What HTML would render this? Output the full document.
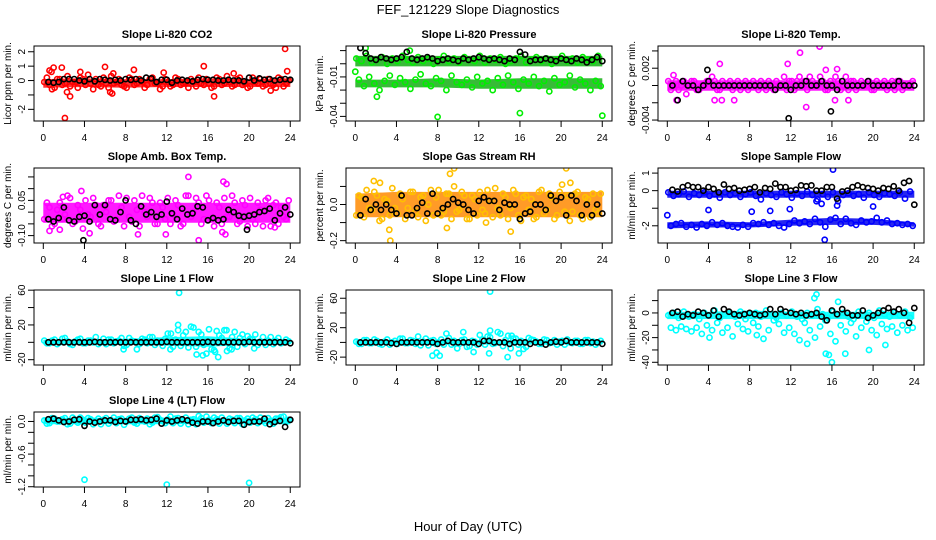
<!DOCTYPE html>
<html><head><meta charset="utf-8">
<style>
html,body{margin:0;padding:0;background:#fff;}
svg{display:block;font-family:"Liberation Sans",Arial,sans-serif;}
</style></head>
<body>
<svg id="chart" width="936" height="540" viewBox="0 0 936 540">
<rect x="0" y="0" width="936" height="540" fill="#fff"/>
<text x="468" y="14" text-anchor="middle" font-size="13">FEF_121229  Slope Diagnostics</text>
<text x="468" y="531" text-anchor="middle" font-size="13">Hour of Day (UTC)</text>
</svg>
<script>
// ---- shared sample times (hours) ----
const tA = [0.1,0.6,1.1,1.6,2.1,2.6,3.1,3.6,4.1,4.6,5.1,5.6,6.1,6.6,7.1,7.6,8.1,8.6,9.1,9.6,10.1,10.6,11.1,11.6,12.1,12.6,13.1,13.6,14.1,14.6,15.1,15.6,16.1,16.6,17.1,17.6,18.1,18.6,19.1,19.6,20.1,20.6,21.1,21.6,22.1,22.6,23.1,23.6];
const tB = [0.35,0.85,1.35,1.85,2.35,2.85,3.35,3.85,4.35,4.85,5.35,5.85,6.35,6.85,7.35,7.85,8.35,8.85,9.35,9.85,10.35,10.85,11.35,11.85,12.35,12.85,13.35,13.85,14.35,14.85,15.35,15.85,16.35,16.85,17.35,17.85,18.35,18.85,19.35,19.85,20.35,20.85,21.35,21.85,22.35,22.85,23.35,23.85];
const tK = [0.5,1,1.5,2,2.5,3,3.5,4,4.5,5,5.5,6,6.5,7,7.5,8,8.5,9,9.5,10,10.5,11,11.5,12,12.5,13,13.5,14,14.5,15,15.5,16,16.5,17,17.5,18,18.5,19,19.5,20,20.5,21,21.5,22,22.5,23,23.5,24];
const bandT = [0,4,8,12,16,20,24];
const xTicks = [0,4,8,12,16,20,24];

// ---- P1 CO2 ----
const co2A = [-0.1,-0.3,-0.5,0.1,-0.2,-0.4,-0.1,0.2,-0.3,-0.2,0.1,-0.4,-0.2,0.3,-0.1,-0.3,-0.5,0.1,-0.2,-0.1,-0.3,0.2,-0.2,-0.4,-0.1,-0.3,0.1,-0.2,-0.5,-0.1,0.2,-0.3,-0.2,-0.4,0.1,-0.2,-0.1,-0.3,0.2,-0.2,-0.4,-0.1,0.1,-0.3,-0.2,-0.5,0.1,-0.2];
const co2B = [0.2,-0.6,0.1,-0.3,0.3,-0.1,-0.5,0.1,0.4,-0.6,-0.3,0.2,-0.5,-0.2,0.1,-0.4,0.2,-0.3,0.1,-0.5,0.1,-0.2,-0.6,0.1,-0.4,0.2,-0.3,-0.1,0.1,-0.4,-0.2,0.1,-0.5,0.2,-0.3,0.3,-0.4,0.1,-0.3,-0.5,0.2,-0.2,-0.4,0.1,-0.3,0.2,-0.4,0];
const co2K = [-0.1,-0.15,-0.1,0.1,0.1,0.1,0,-0.05,0.1,-0.05,0.1,0.05,0,0.05,0,0.1,0.05,0.1,0,0.2,0.15,-0.1,0.05,0.05,-0.15,0,0.05,0,-0.05,0.05,0.1,0.05,0.05,0,0,0.05,0,0,-0.05,0.2,0,0.15,0.05,0.1,0,0.05,0.1,0.05];
const co2BandLo = [-0.5,-0.45,-0.5,-0.45,-0.45,-0.45,-0.45];
const co2BandHi = [0.1,0.15,0.1,0.1,0.15,0.1,0.15];
const co2OutX = [0.6,0.8,1,1.8,2.1,2.3,2.6,3.6,6,6.8,6.7,8.8,11.7,15.6,16.6,18.5,22.1,23.5,23.7,6.5];
const co2OutY = [0.7,0.6,0.9,0.9,-2.6,-0.8,-1.1,0.6,0.95,0.5,-0.9,0.75,0.55,1,-1.1,0.5,-0.7,2.2,0.65,-0.8];

// ---- P2 Pressure ----
const prA = [0.004,0.002,0.006,0.001,0.003,0.005,0.0,0.004,0.002,0.006,0.003,0.001,0.005,0.002,0.004,0.0,0.003,0.006,0.002,0.004,0.001,0.005,0.003,0.002,0.006,0.001,0.004,0.003,0.005,0.0,0.002,0.004,0.006,0.001,0.003,0.005,0.002,0.004,0.0,0.003,0.006,0.002,0.004,0.001,0.005,0.003,0.002,0.006];
const prB = [-0.012,-0.017,-0.01,-0.015,-0.02,-0.013,-0.009,-0.016,-0.011,-0.014,-0.019,-0.012,-0.008,-0.015,-0.017,-0.011,-0.013,-0.02,-0.009,-0.014,-0.016,-0.012,-0.018,-0.01,-0.015,-0.013,-0.02,-0.011,-0.016,-0.009,-0.014,-0.019,-0.012,-0.015,-0.01,-0.017,-0.013,-0.021,-0.011,-0.016,-0.014,-0.009,-0.018,-0.012,-0.015,-0.02,-0.013,-0.017];
const prK = [0.012,0.008,0.004,0.003,0.005,0.004,0.003,0.004,0.005,0.009,0.004,0.003,0.004,0.005,0.004,0.002,0.003,0.004,0.003,0.002,0.004,0.003,0.004,0.005,0.004,0.003,0.004,0.003,0.002,0.004,0.003,0.009,0.007,0.002,0.003,0.003,0.004,0.003,0.002,0.004,0.003,0.002,0.004,0.003,0.001,0.003,0.005,0.002];
const prBandLo = [-0.002,-0.002,-0.002,-0.002,-0.002,-0.002,-0.002];
const prBandHi = [0.006,0.006,0.006,0.006,0.006,0.006,0.006];
const prBand2Lo = [-0.018,-0.018,-0.018,-0.019,-0.019,-0.019,-0.019];
const prBand2Hi = [-0.012,-0.012,-0.011,-0.012,-0.011,-0.011,-0.011];
const prOutX = [8,16,24,0,2.1,5.3,1];
const prOutY = [-0.0404,-0.0375,-0.0395,-0.006,-0.025,0.01,0.012];

// ---- P3 Li-820 Temp ----
const tpA = [0.0005,0,-0.0005,0.0005,0,0.0005,-0.0005,0,0.0005,0.0005,-0.0005,0,0.0005,0,-0.0005,0.0005,0,0,0.0005,-0.0005,0,0.0005,0,-0.0005,0.0005,0.0005,0,-0.0005,0.0005,0,0.0005,-0.0005,0,0.0005,0,-0.0005,0.0005,0,0,0.0005,-0.0005,0,0.0005,0,-0.0005,0.0005,0,0];
const tpB = [-0.0005,0.0005,0,-0.001,0.0005,-0.0005,0,0.0005,0.001,-0.0005,0.0005,0,-0.0005,0.0005,0,-0.0005,0.0005,-0.0005,0,0.0005,-0.0005,0,0.001,0.0005,-0.0005,0.001,0.0005,0.001,0,0.001,-0.0005,0.0005,0.001,-0.0005,0.001,0.0005,-0.0005,0.0005,0,-0.0005,0.0005,0,-0.0005,0.0005,0.0005,-0.0005,0,0.0005];
const tpK = [0,-0.0017,0.0005,0,0,-0.0005,0,0.0005,0,0,0,0,0,0,0,0,0,0,0,0,-0.0005,0,0,-0.0005,0,0,0.0005,0,0,0.0005,0,0,-0.0005,0.0005,0,0,0,0,0.0005,0,0,0,0,0,0.0005,0,0,0];
const tpBandLo = [-0.0006,-0.0006,-0.0006,-0.0006,-0.0006,-0.0006,-0.0006];
const tpBandHi = [0.0006,0.0006,0.0006,0.0006,0.0006,0.0006,0.0006];
const tpOutX = [0.9,4.6,5.1,5.3,6.5,11.7,12.9,13.5,14.8,15.4,16.3,16.5,17.6,0.6];
const tpOutY = [-0.0017,-0.0017,0.0025,-0.0017,-0.0017,0.0025,0.0038,-0.0025,0.0045,0.0018,-0.0017,0.0019,-0.0017,0.0012];
const tpKOutX = [11.8,15.9,3.9];
const tpKOutY = [-0.0038,-0.003,0.0018];

// ---- P4 Amb Box Temp ----
const amA = [-0.03,0.02,-0.05,0.04,-0.01,0.06,-0.04,0.01,0.05,-0.02,0.03,-0.06,0.0,0.05,-0.03,0.02,0.06,-0.04,0.01,0.07,-0.02,0.04,-0.05,0.02,0.06,-0.01,0.03,-0.05,0.07,0.0,0.04,-0.03,0.05,-0.06,0.02,0.06,-0.02,0.04,-0.04,0.03,0.06,-0.05,0.01,0.05,-0.06,0.04,0.02,-0.03];
const amB = [0.04,-0.06,0.01,-0.03,0.07,-0.05,0.03,-0.07,-0.01,0.06,-0.05,0.03,0.05,-0.04,0.07,-0.06,-0.02,0.05,-0.06,0.0,0.06,-0.05,0.04,-0.03,-0.05,0.05,-0.06,0.07,-0.02,0.06,-0.05,0.07,-0.03,0.04,-0.05,-0.02,0.07,-0.05,0.05,-0.06,-0.03,0.04,-0.06,0.06,0.03,-0.05,-0.02,0.05];
const amK = [-0.03,-0.04,-0.025,0.02,-0.035,-0.04,-0.02,-0.015,-0.04,0.03,-0.01,0.03,-0.03,-0.035,0.0,0.05,-0.035,-0.05,0.025,-0.01,0.0,-0.02,-0.01,0.045,-0.005,-0.03,0.015,-0.01,-0.005,0.025,0.02,-0.035,-0.025,-0.035,-0.03,0.01,0.0,-0.015,-0.02,-0.015,-0.01,0.0,0.005,0.015,-0.035,-0.005,0.02,-0.01];
const amBandLo = [-0.045,-0.045,-0.045,-0.045,-0.045,-0.045,-0.045];
const amBandHi = [0.04,0.04,0.04,0.04,0.04,0.04,0.04];
const amOutX = [3.7,14.1,17.5,17.8,15.1,11.9,9.2,0.6,4.5,1.6,17.4,17.7,22.5,1.9];
const amOutY = [0.09,0.15,0.13,0.12,-0.12,-0.095,-0.095,-0.08,-0.09,-0.075,-0.085,-0.095,-0.065,0.065];
const amKOutX = [3.9,19.8];
const amKOutY = [-0.12,-0.075];

// ---- P5 Gas Stream RH ----
const rhA = [-0.06,0.04,0.08,-0.03,0.05,-0.08,0.02,0.09,-0.05,0.03,-0.02,0.07,-0.07,0.05,0.0,-0.06,0.08,-0.04,0.06,0.1,-0.03,0.05,-0.08,0.03,0.07,-0.05,0.02,0.09,-0.06,0.04,-0.02,0.06,-0.09,0.05,0.03,-0.07,0.08,-0.03,0.04,-0.06,0.11,0.05,-0.04,0.07,-0.08,0.03,0.06,-0.05];
const rhB = [0.05,-0.07,-0.02,0.07,-0.09,0.03,-0.06,-0.02,0.06,-0.08,0.07,-0.04,0.04,-0.09,0.08,0.04,-0.06,0.06,-0.08,-0.04,0.07,-0.08,0.05,-0.06,-0.03,0.08,-0.07,-0.02,0.06,-0.08,0.08,-0.06,0.04,-0.03,-0.08,0.07,-0.05,0.06,-0.08,0.07,-0.04,-0.09,0.06,-0.06,0.04,-0.07,-0.03,0.06];
const rhK = [-0.06,0.03,-0.03,0.0,-0.03,0.0,-0.03,-0.05,0.05,-0.06,-0.06,-0.02,0.01,-0.05,0.06,-0.05,-0.02,0.0,0.03,0.01,0.0,-0.03,-0.05,0.02,0.04,0.02,0.02,-0.03,0.01,0.0,0.0,-0.08,-0.05,-0.04,0.0,0.0,-0.03,0.05,0.02,0.04,-0.06,0.05,0.02,-0.06,0.0,-0.06,0.0,-0.05];
const rhBandLo = [-0.07,-0.07,-0.07,-0.07,-0.07,-0.07,-0.07];
const rhBandHi = [0.06,0.07,0.07,0.07,0.07,0.07,0.07];
const rhOutX = [3.3,3.4,9.2,9.6,8.9,1.8,20.5,20.9,15.1,12.7,2.4];
const rhOutY = [-0.14,-0.2,0.17,0.2,-0.13,0.13,0.2,0.12,-0.15,-0.1,0.12];

// ---- P6 Sample Flow ----
const sfA = [-0.1,-0.3,-0.2,-0.05,-0.35,-0.15,-0.25,-0.1,-0.3,-0.2,-0.4,-0.1,-0.25,-0.15,-0.35,-0.2,-0.1,-0.3,-0.5,-0.15,-0.25,-0.35,-0.1,-0.2,-0.4,-0.15,-0.3,-0.05,-0.25,-0.5,-0.2,-0.35,-0.1,-0.6,-0.25,-0.15,-0.3,-0.2,-0.4,-0.1,-0.25,-0.35,-0.15,-0.2,-0.3,-0.1,-0.45,-0.05];
const sfB = [-2.0,-1.9,-1.85,-2.05,-1.95,-2.1,-1.9,-2.0,-1.8,-1.95,-1.85,-2.0,-2.05,-2.1,-1.95,-2.05,-1.85,-1.9,-1.8,-1.95,-1.85,-2.0,-2.1,-1.9,-1.7,-1.85,-1.75,-1.9,-1.6,-1.8,-2.05,-1.65,-1.55,-1.9,-1.6,-1.85,-1.95,-1.7,-1.8,-1.75,-1.55,-1.8,-1.7,-1.9,-1.85,-1.95,-1.9,-2.0];
const sfK = [0.05,-0.05,0.2,0.3,0.2,0.2,0.0,0.2,0.1,-0.1,0.35,0.1,0.15,0.0,0.05,0.1,0.2,-0.1,0.15,0.1,0.4,0.2,0.2,0.0,0.05,0.3,0.25,0.3,0.0,0.0,0.2,0.2,-0.45,-0.05,0.0,0.2,0.3,0.2,0.15,0.1,0.0,0.15,0.1,0.25,0.0,0.45,0.55,-0.8];
const sfBandLo = [-0.4,-0.4,-0.4,-0.4,-0.4,-0.4,-0.4];
const sfBandHi = [0.0,0.0,0.0,0.0,0.0,0.0,0.0];
const sfBand2Lo = [-2.15,-2.1,-2.1,-2.0,-1.95,-1.95,-2.05];
const sfBand2Hi = [-1.8,-1.75,-1.8,-1.65,-1.55,-1.6,-1.8];
const sfOutX = [15.3,16.1,0,4,8.2,10,11.9,20,14.5,15,16.5];
const sfOutY = [-2.8,1.2,-1.4,-1.1,-1.2,-1.15,-1.05,-0.9,-0.6,-0.75,-0.85];

// ---- P7 Line 1 Flow ----
const l1A = [2,-1,3,0,5,-2,1,4,-1,2,6,0,-2,3,1,5,-3,2,0,4,-1,6,2,-4,10,-5,14,8,-6,17,12,-3,15,-9,8,14,-7,12,5,-2,4,9,1,-3,6,2,-1,3];
const l1B = [-1,2,-2,4,1,-3,3,-1,2,0,-2,4,3,-1,2,-4,5,1,-2,3,6,-3,1,4,-8,3,-4,12,18,-5,9,-13,-8,13,5,-10,6,-5,9,7,3,-3,6,2,-2,5,0,1];
const l1K = [0,0,0,0,0,0,0,0,0,0.5,0,0,0,0,0,0,0,0,0,0,0,0,0,0.5,0,0,0,0,0,0,0,0.5,0,0,0,0,0,0,0,0.5,0,0,0,0,0,0,0,-1];
const l1BandLo = [-2.5,-2.5,-3,-4,-5,-3,-2.5];
const l1BandHi = [3,3.5,4,6,7,4,3];
const l1OutX = [13.2,14.9,15.5,17,16.7,12.4,7.8,9.1,18.3,17.8,20.5,13.1];
const l1OutY = [57,-14,-15,-17,-11,10,-8,-8,-8,14,-7,20];

// ---- P8 Line 2 Flow ----
const l2A = [1,-2,3,-1,2,-3,4,0,-2,5,-1,2,8,1,-4,3,0,-3,6,2,-2,4,-5,1,10,-3,7,-1,12,3,-8,5,2,-6,4,1,-2,3,0,-3,2,4,-1,2,-2,3,1,0];
const l2B = [-2,3,-1,4,-2,1,-3,2,5,-1,3,-2,-4,5,2,-2,4,12,-3,-1,3,-6,2,-3,4,8,-2,14,-5,9,5,-3,-9,6,3,-2,4,-1,3,1,-3,0,2,-2,3,-1,-3,2];
const l2K = [0,0,0,0,0,0,-1,-2,0,0,0,0,0,0,0,-2,0,2,0,0,0,0,0,-2,2,2,0,0,0,-2,0,0,0,-2,0,0,-3,0,1,0,2,0,0,0,0,0,0,-2];
const l2BandLo = [-3,-3,-3,-3,-3,-3,-3];
const l2BandHi = [3,3,3,3,3,3,3];
const l2OutX = [13.1,7.9,8.2,7.5,11.5,13,14.8,9.9,15.2,13.1,10.5,15.9];
const l2OutY = [69,-14,-18,-18,-13,-15,-20,-8,9,16,14,-15];

// ---- P9 Line 3 Flow ----
const l3A = [-2,0,-4,1,-3,-1,-5,0,-2,2,-4,-1,0,-3,1,-5,-2,0,-3,2,-1,-4,0,-2,1,-3,-5,0,-2,3,-1,-4,1,-2,0,-3,-5,1,-2,0,-4,2,-1,-3,0,-2,1,-4];
const l3B = [-12,-14,-11,-13,-15,-12,-17,-10,-14,-8,-16,-12,-19,-9,-13,-15,-8,-11,-21,-14,-6,-9,-16,-12,-17,-22,-8,-14,-20,-11,-6,-17,-23,-10,-15,-8,-19,-12,-7,-14,-18,-9,-13,-11,-16,-10,-14,-12];
const l3K = [0,1,-3,-1,-2,1,0,-2,2,-3,3,1,-1,-2,-1,0,-1,-2,-1,3,-1,3,1,0,-1,0,-2,-1,0,-3,-6,2,-1,3,0,-2,-2,2,-4,-2,0,2,4,1,3,0,-8,4];
const l3BandLo = [-5,-5,-5,-5,-5,-5,-5];
const l3BandHi = [1,1,2,1,1,1,1];
const l3OutX = [15.4,15.7,16,14.3,14.5,16.6,17.3,19.6,21.2,13.6,8.7,4.1];
const l3OutY = [-33,-34,-40,12,15,9,-33,-30,-26,-25,-18,-20];

// ---- P10 Line 4 (LT) Flow ----
const l4A = [0.02,-0.03,0.05,0.0,0.06,-0.04,0.03,0.07,-0.02,0.04,0.01,-0.05,0.06,0.02,-0.03,0.05,0.0,0.07,-0.04,0.03,0.05,-0.02,0.08,0.01,0.04,-0.03,0.06,0.02,-0.05,0.04,0.1,-0.02,0.03,0.07,-0.04,0.01,0.05,-0.03,0.06,0.02,-0.02,0.04,0.07,-0.03,0.01,0.05,0.08,-0.01];
const l4B = [-0.04,0.06,0.0,0.04,-0.05,0.07,-0.02,0.03,0.06,-0.05,0.05,0.03,-0.04,0.07,0.04,-0.06,0.05,-0.02,0.06,0.0,-0.05,0.07,0.03,-0.03,0.09,0.05,-0.04,0.07,0.03,-0.05,0.06,0.09,-0.03,0.04,0.07,-0.04,0.03,0.06,-0.05,0.05,0.07,-0.03,0.02,0.06,-0.04,0.05,0.09,0.03];
const l4K = [0.04,0.05,0.02,-0.01,0.0,0.03,0.04,-0.08,0.0,-0.02,0.0,0.02,0.02,-0.01,0.01,0.0,0.03,0.03,0.04,0.02,0.03,0.05,-0.04,0.02,0.0,0.02,0.04,0.02,-0.02,-0.04,0.0,0.0,-0.03,0.0,0.02,-0.01,0.01,0.01,-0.06,-0.01,0.0,0.0,0.05,-0.05,-0.01,0.01,-0.1,0.03];
const l4BandLo = [-0.05,-0.05,-0.05,-0.05,-0.05,-0.05,-0.05];
const l4BandHi = [0.07,0.07,0.07,0.07,0.07,0.07,0.07];
const l4OutX = [4,12,20];
const l4OutY = [-1.07,-1.16,-1.13];

const NS = 'http://www.w3.org/2000/svg';
const svg = document.getElementById('chart');
const COLL = [34,346,658], ROWT = [46,168,290,412], PW = 266, PH = 75;

function mk(tag, attrs, parent){
  const e = document.createElementNS(NS, tag);
  for (const k in attrs) e.setAttribute(k, attrs[k]);
  (parent||svg).appendChild(e);
  return e;
}

const panels = [
 {key:'co2',title:'Slope Li-820 CO2',ylab:'Licor ppm per min.',c:0,r:0,yMin:-2.81,yMax:2.40,ticks:[-2,-1,0,1,2],labels:{'2':'2','1':'1','0':'0','-2':'-2'},col:'#ff0000',band:'#ff1a1a',A:co2A,B:co2B,K:co2K,bl:co2BandLo,bh:co2BandHi,ox:co2OutX,oy:co2OutY},
 {key:'pressure',title:'Slope Li-820 Pressure',ylab:'kPa per min.',c:1,r:0,yMin:-0.0435,yMax:0.0135,ticks:[0.01,0,-0.01,-0.02,-0.03,-0.04],labels:{'-0.01':'-0.01','-0.04':'-0.04'},col:'#00ee00',band:'#22b422',A:prA,B:prB,K:prK,bl:prBandLo,bh:prBandHi,bl2:prBand2Lo,bh2:prBand2Hi,ox:prOutX,oy:prOutY},
 {key:'li820-temp',title:'Slope Li-820 Temp.',ylab:'degrees C per min.',c:2,r:0,yMin:-0.00411,yMax:0.00457,ticks:[0.004,0.002,0,-0.002,-0.004],labels:{'0.002':'0.002','-0.004':'-0.004'},col:'#ff00ff',band:'#ff00ff',A:tpA,B:tpB,K:tpK,bl:tpBandLo,bh:tpBandHi,ox:tpOutX,oy:tpOutY,kx:tpKOutX,ky:tpKOutY},
 {key:'amb-box-temp',title:'Slope Amb. Box Temp.',ylab:'degrees C per min.',c:0,r:1,yMin:-0.1315,yMax:0.188,ticks:[0.15,0.1,0.05,0,-0.05,-0.1],labels:{'0.05':'0.05','-0.1':'-0.10'},col:'#ff00ff',band:'#ff00ff',A:amA,B:amB,K:amK,bl:amBandLo,bh:amBandHi,ox:amOutX,oy:amOutY,kx:amKOutX,ky:amKOutY},
 {key:'gas-stream-rh',title:'Slope Gas Stream RH',ylab:'percent per min.',c:1,r:1,yMin:-0.213,yMax:0.202,ticks:[0.1,0,-0.1,-0.2],labels:{'0':'0.0','-0.2':'-0.2'},col:'#ffc000',band:'#ff9010',A:rhA,B:rhB,K:rhK,bl:rhBandLo,bh:rhBandHi,ox:rhOutX,oy:rhOutY},
 {key:'sample-flow',title:'Slope Sample Flow',ylab:'ml/min per min.',c:2,r:1,yMin:-2.98,yMax:1.29,ticks:[1,0,-1,-2],labels:{'1':'1','0':'0','-2':'-2'},col:'#0000ff',band:'#1010ee',A:sfA,B:sfB,K:sfK,bl:sfBandLo,bh:sfBandHi,bl2:sfBand2Lo,bh2:sfBand2Hi,ox:sfOutX,oy:sfOutY},
 {key:'line1-flow',title:'Slope Line 1 Flow',ylab:'ml/min per min.',c:0,r:2,yMin:-26.1,yMax:60.2,ticks:[60,40,20,0,-20],labels:{'60':'60','20':'20','-20':'-20'},col:'#00ffff',band:'#00ffff',A:l1A,B:l1B,K:l1K,bl:l1BandLo,bh:l1BandHi,ox:l1OutX,oy:l1OutY},
 {key:'line2-flow',title:'Slope Line 2 Flow',ylab:'ml/min per min.',c:1,r:2,yMin:-30.7,yMax:71.2,ticks:[60,40,20,0,-20],labels:{'60':'60','20':'20','-20':'-20'},col:'#00ffff',band:'#00ffff',A:l2A,B:l2B,K:l2K,bl:l2BandLo,bh:l2BandHi,ox:l2OutX,oy:l2OutY},
 {key:'line3-flow',title:'Slope Line 3 Flow',ylab:'ml/min per min.',c:2,r:2,yMin:-42.2,yMax:18.6,ticks:[10,0,-10,-20,-30,-40],labels:{'0':'0','-20':'-20','-40':'-40'},col:'#00ffff',band:'#00ffff',A:l3A,B:l3B,K:l3K,bl:l3BandLo,bh:l3BandHi,ox:l3OutX,oy:l3OutY},
 {key:'line4-flow',title:'Slope Line 4 (LT) Flow',ylab:'ml/min per min.',c:0,r:3,yMin:-1.205,yMax:0.174,ticks:[0,-0.2,-0.4,-0.6,-0.8,-1,-1.2],labels:{'0':'0.0','-0.6':'-0.6','-1.2':'-1.2'},col:'#00ffff',band:'#00ffff',A:l4A,B:l4B,K:l4K,bl:l4BandLo,bh:l4BandHi,ox:l4OutX,oy:l4OutY}
];

panels.forEach(p => {
  const L = COLL[p.c], T = ROWT[p.r];
  const sx = h => L + 9.3 + h * 10.29;
  const sy = v => T + (p.yMax - v) / (p.yMax - p.yMin) * PH;
  const g = mk('g', {});
  
  

  const clipId = 'clip-' + p.key;
  const cp = mk('clipPath', {id: clipId}, g);
  mk('rect', {x: L, y: T, width: PW, height: PH}, cp);

  const title = mk('text', {x: L + PW/2, y: T - 8, 'text-anchor': 'middle', 'font-size': 11, 'font-weight': 'bold'}, g);
  title.textContent = p.title;
  
  

  const yl = mk('text', {transform: 'translate(' + (L - 23) + ',' + (T + PH/2) + ') rotate(-90)', 'text-anchor': 'middle', 'font-size': 10}, g);
  yl.textContent = p.ylab;
  
  

  const marks = mk('g', {'clip-path': 'url(#' + clipId + ')'}, g);
  
  

  function band(lo, hi, nm){
    let d = '';
    bandT.forEach((t, i) => { d += (i ? 'L' : 'M') + sx(t).toFixed(1) + ',' + sy(hi[i]).toFixed(1); });
    for (let i = bandT.length - 1; i >= 0; i--) d += 'L' + sx(bandT[i]).toFixed(1) + ',' + sy(lo[i]).toFixed(1);
    const b = mk('path', {d: d + 'Z', fill: p.band, opacity: 0.9}, marks);
    
    
  }
  band(p.bl, p.bh, 'density-band');
  if (p.bl2) band(p.bl2, p.bh2, 'density-band-lower');

  function pts(ts, vs, color, nm){
    ts.forEach((t, i) => {
      const c = mk('circle', {cx: sx(t).toFixed(1), cy: sy(vs[i]).toFixed(1), r: 2.6, fill: 'none', stroke: color, 'stroke-width': 1.6}, marks);
      
      
    });
  }
  pts(tA, p.A, p.col, 'point-colored');
  pts(tB, p.B, p.col, 'point-colored');
  pts(p.ox, p.oy, p.col, 'point-outlier');
  pts(tK, p.K, '#000', 'point-black');
  if (p.kx) pts(p.kx, p.ky, '#000', 'point-black-outlier');

  const box = mk('rect', {x: L, y: T, width: PW, height: PH, fill: 'none', stroke: '#000', 'stroke-width': 1}, g);
  
  

  xTicks.forEach(t => {
    const x = sx(t);
    mk('line', {x1: x, x2: x, y1: T + PH, y2: T + PH + 6, stroke: '#000'}, g);
    const tl = mk('text', {x: x, y: T + PH + 20, 'text-anchor': 'middle', 'font-size': 10}, g);
    tl.textContent = t;
    
    
  });
  mk('line', {x1: sx(0), x2: sx(24), y1: T + PH + 6, y2: T + PH + 6, stroke: '#fff', 'stroke-width': 0}, g);

  p.ticks.forEach(v => {
    const y = sy(v);
    mk('line', {x1: L - 6, x2: L, y1: y, y2: y, stroke: '#000'}, g);
    const lab = p.labels[String(v)];
    if (lab !== undefined) {
      const tl = mk('text', {transform: 'translate(' + (L - 9) + ',' + y + ') rotate(-90)', 'text-anchor': 'middle', 'font-size': 10}, g);
      tl.textContent = lab;
      
      
    }
  });
});
</script>
</body></html>
